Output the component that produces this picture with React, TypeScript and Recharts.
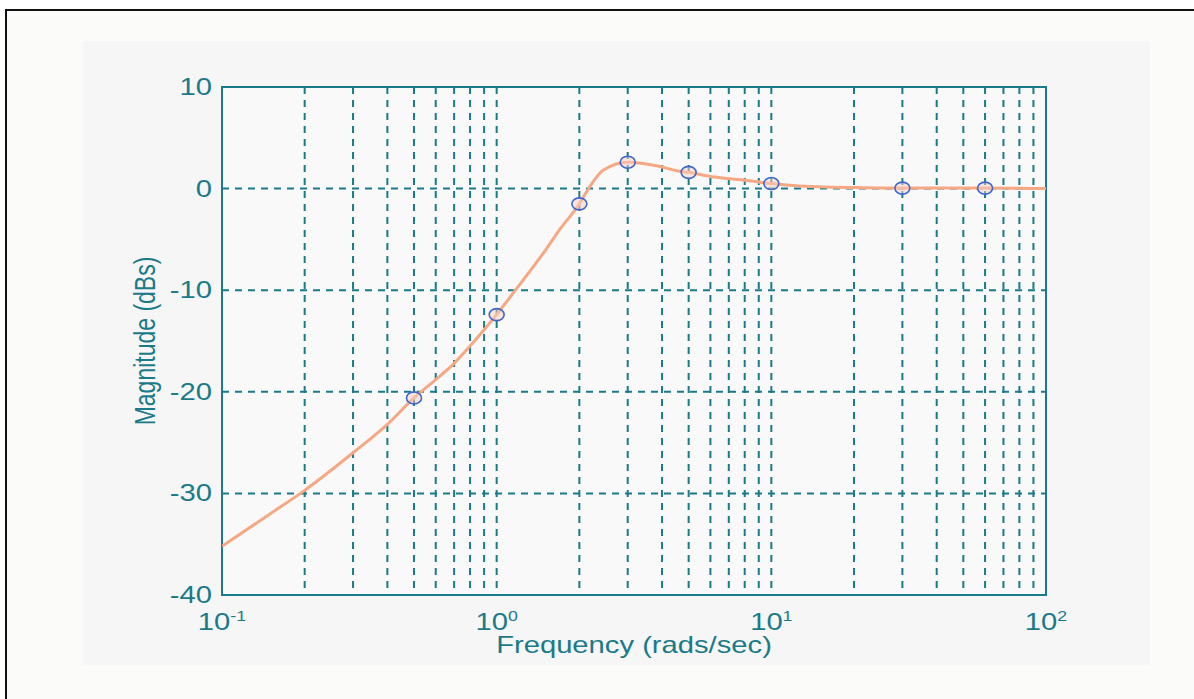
import React from "react";
import {
  ComposedChart,
  Line,
  Scatter,
  XAxis,
  YAxis,
  CartesianGrid,
  ReferenceArea,
  Label,
} from "recharts";

// Curve (frequency in rad/s, magnitude in dB)
const curveFreq = [0.1, 0.15, 0.2, 0.3, 0.4, 0.5, 0.6, 0.7, 0.8, 0.9, 1.0, 1.17, 1.52, 1.7, 2.0, 2.16, 2.44, 3.0, 3.9, 4.65, 5, 6, 7.9, 10, 12.7, 20, 30, 60, 100];
const curveMag = [-35.2, -32.0, -29.7, -26.0, -23.2, -20.6, -18.8, -17.2, -15.5, -13.9, -12.4, -10, -5.9, -4.0, -1.5, 0, 1.8, 2.6, 2.2, 1.7, 1.6, 1.2, 0.85, 0.5, 0.26, 0.1, 0.05, 0.05, 0.0];

// Measured points (circles)
const markerFreq = [0.5, 1, 2, 3, 5, 10, 30, 60];
const markerMag = [-20.6, -12.4, -1.5, 2.6, 1.6, 0.5, 0.05, 0.05];

// Axis ticks
const xTicks = [0.1, 0.2, 0.3, 0.4, 0.5, 0.6, 0.7, 0.8, 0.9, 1, 2, 3, 4, 5, 6, 7, 8, 9, 10, 20, 30, 40, 50, 60, 70, 80, 90, 100];
const decadeTicks = [0.1, 1, 10, 100];
const decadeExp = ["-1", "0", "1", "2"];
const yTicks = [-40, -30, -20, -10, 0, 10];

const xLabel = "Frequency (rads/sec)";
const yLabel = "Magnitude (dBs)";

const curveData = curveFreq.map((f, i) => ({ f, mag: curveMag[i] }));
const markerData = markerFreq.map((f, i) => ({ f, mag: markerMag[i] }));

const TEAL = "#1a7a8a";
const FONT = "'Liberation Sans', Arial, Helvetica, sans-serif";
const SX = 1.27;

const XTick = (props: any) => {
  const { x, y, payload } = props;
  const i = decadeTicks.indexOf(payload.value);
  if (i < 0) return <g />;
  return (
    <g transform={`translate(${x},${y + 35}) scale(${SX},1)`}>
      <text textAnchor="middle" fill={TEAL} fontSize={23} fontFamily={FONT}>
        10
        <tspan dy={-9} fontSize={14}>
          {decadeExp[i]}
        </tspan>
      </text>
    </g>
  );
};

const YTick = (props: any) => {
  const { x, y, payload } = props;
  return (
    <g transform={`translate(${x - 10},${y + 8}) scale(${SX},1)`}>
      <text textAnchor="end" fill={TEAL} fontSize={23} fontFamily={FONT}>
        {String(payload.value)}
      </text>
    </g>
  );
};

const XLabelContent = (props: any) => {
  const vb = props.viewBox || {};
  const cx = vb.x + vb.width / 2;
  return (
    <g transform={`translate(${cx},${vb.y + 58}) scale(${SX},1)`}>
      <text textAnchor="middle" fill={TEAL} fontSize={23} fontFamily={FONT}>
        {xLabel}
      </text>
    </g>
  );
};

const YLabelContent = (props: any) => {
  const vb = props.viewBox || {};
  const cy = vb.y + vb.height / 2;
  return (
    <g transform={`translate(${vb.x + 72},${cy}) scale(${SX},1) rotate(-90)`}>
      <text textAnchor="middle" fill={TEAL} fontSize={23} fontFamily={FONT}>
        {yLabel}
      </text>
    </g>
  );
};

const Marker = (props: any) => {
  const { cx, cy } = props;
  if (cx == null || cy == null) return <g />;
  return (
    <ellipse
      cx={cx}
      cy={cy}
      rx={7.5}
      ry={6}
      fill="#f6cfc4"
      fillOpacity={0.5}
      stroke="#3f67c9"
      strokeWidth={1.6}
    />
  );
};

export default function App() {
  return (
    <div
      style={{
        position: "absolute",
        left: 0,
        top: 0,
        width: 1194,
        height: 699,
        background: "#ffffff",
        overflow: "hidden",
      }}
    >
      <div
        style={{
          position: "absolute",
          left: 5,
          top: 9,
          width: 1189,
          height: 690,
          borderLeft: "2px solid #111",
          borderTop: "2px solid #111",
          background: "#fbfbf9",
        }}
      />
      <div
        style={{
          position: "absolute",
          left: 83,
          top: 41,
          width: 1067,
          height: 624,
          background: "#f6f6f6",
        }}
      >
        <ComposedChart
          width={1067}
          height={624}
          data={curveData}
          margin={{ top: 46, right: 104, bottom: 0, left: 0 }}
        >
          <CartesianGrid
            stroke={TEAL}
            strokeDasharray="7 6"
            strokeWidth={2}
            fill="#f9f9f9"
          />
          <XAxis
            dataKey="f"
            type="number"
            scale="log"
            domain={[0.1, 100]}
            allowDataOverflow
            ticks={xTicks}
            interval={0}
            tick={<XTick />}
            tickLine={false}
            tickSize={0}
            tickMargin={0}
            axisLine={false}
            height={70}
          >
            <Label content={<XLabelContent />} />
          </XAxis>
          <YAxis
            type="number"
            domain={[-40, 10]}
            ticks={yTicks}
            interval={0}
            tick={<YTick />}
            tickLine={false}
            tickSize={0}
            tickMargin={0}
            axisLine={false}
            width={139}
          >
            <Label content={<YLabelContent />} />
          </YAxis>
          <ReferenceArea
            x1={0.1}
            x2={100}
            y1={-40}
            y2={10}
            fill="none"
            fillOpacity={0}
            stroke={TEAL}
            strokeWidth={2}
            ifOverflow="visible"
          />
          <Line
            type="monotone"
            dataKey="mag"
            stroke="#f5a883"
            strokeWidth={3}
            dot={false}
            activeDot={false}
            isAnimationActive={false}
          />
          <Scatter
            data={markerData}
            dataKey="mag"
            shape={<Marker />}
            isAnimationActive={false}
          />
        </ComposedChart>
      </div>
    </div>
  );
}
